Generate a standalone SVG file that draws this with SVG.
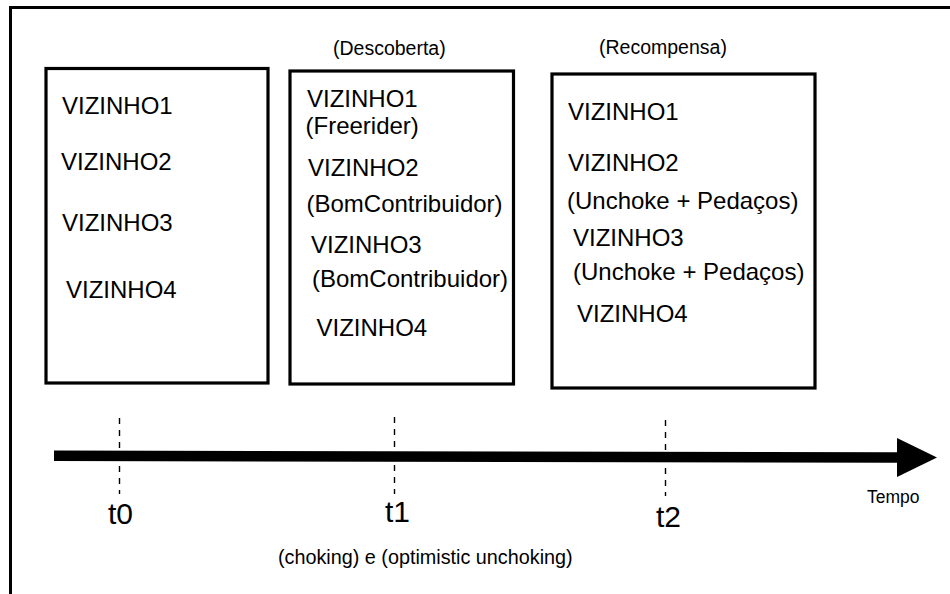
<svg xmlns="http://www.w3.org/2000/svg" width="950" height="594" viewBox="0 0 950 594">
<defs>
<style>
.frame{fill:none;stroke:#000;stroke-width:3}
.box{fill:#fff;stroke:#000;stroke-width:3.2}
.t{font-family:"Liberation Sans",Arial,sans-serif;fill:#000}
.lbl{font-size:24px}
.phase{font-size:19.5px}
.tick{stroke:#000;stroke-width:1.4;stroke-dasharray:6,6;fill:none}
.tl{font-size:30px}
</style>
<marker id="head" markerUnits="userSpaceOnUse" markerWidth="42" markerHeight="40" refX="0" refY="19.5" orient="auto" viewBox="0 0 42 40">
<path d="M0,0 L40,19.5 L0,39 Z" fill="#000"/>
</marker>
</defs>
<rect width="950" height="594" fill="#fff"/>
<path class="frame" d="M10.5,594 V7.5 H950"/>

<g id="box-t0">
<rect class="box" x="46" y="68.5" width="222" height="314.5"/>
<text class="t lbl" x="62" y="114">VIZINHO1</text>
<text class="t lbl" x="61" y="170">VIZINHO2</text>
<text class="t lbl" x="62" y="231">VIZINHO3</text>
<text class="t lbl" x="66" y="298">VIZINHO4</text>
</g>

<g id="box-t1">
<text class="t phase" x="333" y="55">(Descoberta)</text>
<rect class="box" x="290" y="71" width="223.5" height="313"/>
<text class="t lbl" x="307" y="107">VIZINHO1</text>
<text class="t lbl" x="305.5" y="134">(Freerider)</text>
<text class="t lbl" x="308" y="176">VIZINHO2</text>
<text class="t lbl" x="306.5" y="212">(BomContribuidor)</text>
<text class="t lbl" x="311" y="253">VIZINHO3</text>
<text class="t lbl" x="312" y="287">(BomContribuidor)</text>
<text class="t lbl" x="316.5" y="336">VIZINHO4</text>
</g>

<g id="box-t2">
<text class="t phase" x="599" y="54">(Recompensa)</text>
<rect class="box" x="552" y="74" width="263" height="314"/>
<text class="t lbl" x="568" y="120">VIZINHO1</text>
<text class="t lbl" x="568" y="171">VIZINHO2</text>
<text class="t lbl" x="567" y="209">(Unchoke + Pedaços)</text>
<text class="t lbl" x="573" y="246">VIZINHO3</text>
<text class="t lbl" x="573" y="280">(Unchoke + Pedaços)</text>
<text class="t lbl" x="577" y="322">VIZINHO4</text>
</g>

<g id="connectors">
<line x1="54" y1="455.8" x2="897" y2="457.5" stroke="#000" stroke-width="10.5" marker-end="url(#head)"/>
<line class="tick" x1="119.5" y1="418" x2="119.5" y2="494"/>
<line class="tick" x1="394.5" y1="417" x2="394.5" y2="494"/>
<line class="tick" x1="665.5" y1="420" x2="665.5" y2="496"/>
</g>

<g id="time-labels">
<text class="t tl" x="108" y="524">t0</text>
<text class="t tl" x="385" y="522">t1</text>
<text class="t tl" x="656" y="527">t2</text>
<text class="t" font-size="17.5" x="867" y="503">Tempo</text>
<text class="t" font-size="19.8" x="278" y="564">(choking) e (optimistic unchoking)</text>
</g>
</svg>
